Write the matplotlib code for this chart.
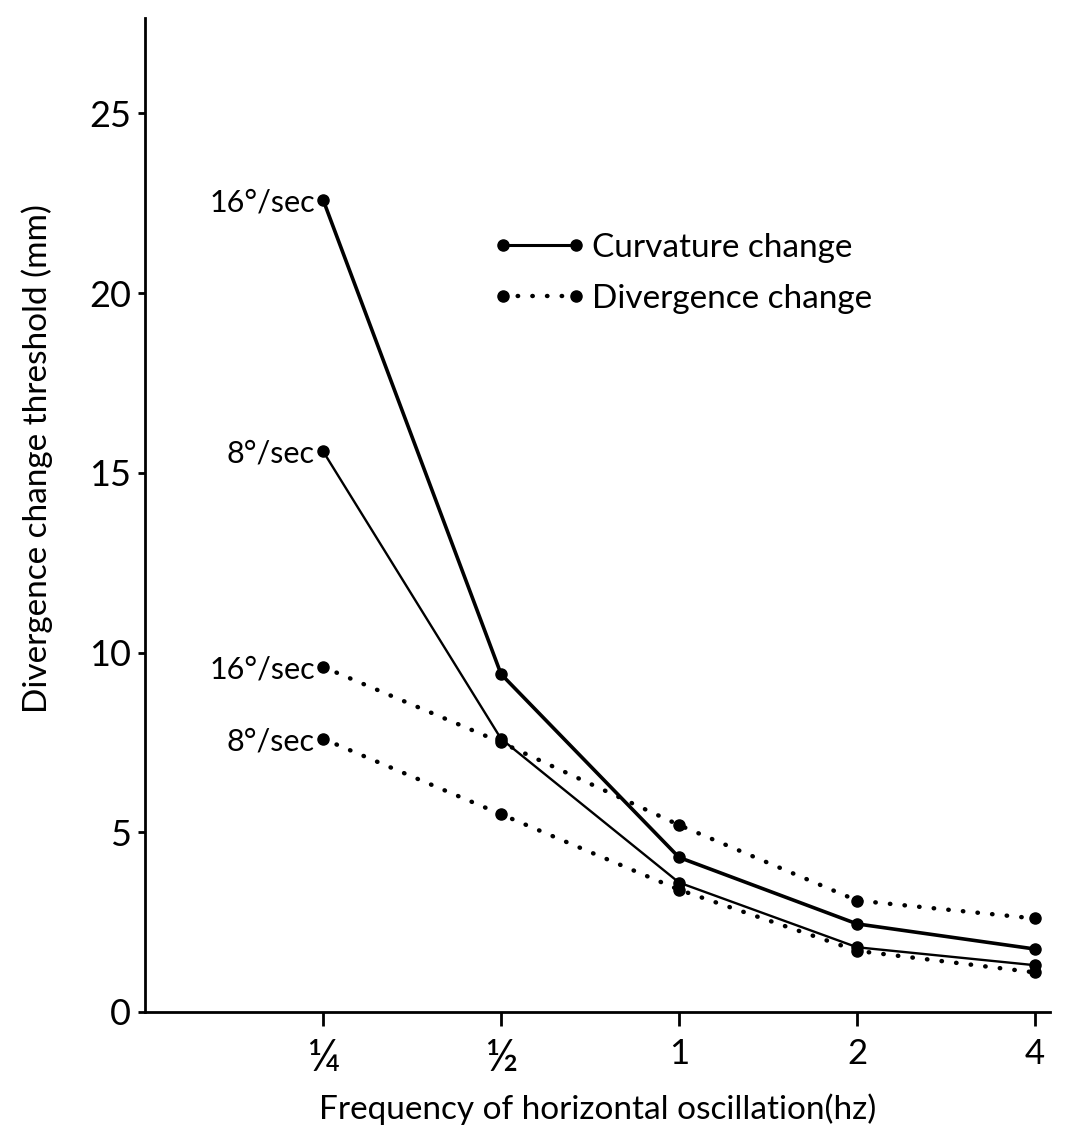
import matplotlib
matplotlib.use("Agg")
import matplotlib.pyplot as plt
from matplotlib.lines import Line2D

plt.rcParams['font.family'] = ['Lato', 'DejaVu Sans']

freq_labels = ["¼", "½", "1", "2", "4"]
curv_16 = [22.6, 9.4, 4.3, 2.45, 1.75]
curv_8 = [15.6, 7.6, 3.6, 1.8, 1.3]
div_16 = [9.6, 7.5, 5.2, 3.1, 2.6]
div_8 = [7.6, 5.5, 3.4, 1.7, 1.1]
series_labels = ["16°/sec", "8°/sec", "16°/sec", "8°/sec"]
y_ticks = [0, 5, 10, 15, 20, 25]

fig = plt.figure(figsize=(10.75, 11.45), dpi=100)
ax = fig.add_axes([0.1349, 0.1162, 0.842, 0.868])

x = list(range(len(freq_labels)))
dot_style = dict(linestyle=(0, (0.1, 3.2)), dash_capstyle='round')

ax.plot(x, curv_16, color='black', lw=2.6, marker='o', ms=8)
ax.plot(x, curv_8, color='black', lw=1.7, marker='o', ms=8)
ax.plot(x, div_16, color='black', lw=3.2, marker='o', ms=8, **dot_style)
ax.plot(x, div_8, color='black', lw=3.2, marker='o', ms=8, **dot_style)

for vals, lab in zip([curv_16, curv_8, div_16, div_8], series_labels):
    ax.annotate(lab, (x[0], vals[0]), xytext=(-6, -2), textcoords='offset points',
                ha='right', va='center', fontsize=22)

ax.set_xlim(-1.0, 4.085)
ax.set_ylim(0, 27.65)
ax.set_xticks(x)
ax.set_xticklabels(freq_labels, fontsize=25)
for t in ax.get_xticklabels():
    if t.get_text() in ("¼", "½"):
        t.set_fontsize(32)
ax.set_yticks(y_ticks)
ax.set_yticklabels([str(v) for v in y_ticks], fontsize=26)
ax.tick_params(axis='y', direction='out', length=5, width=2, pad=5)
ax.tick_params(axis='x', direction='out', length=10, width=2, pad=9)

for s in ['top', 'right']:
    ax.spines[s].set_visible(False)
for s in ['left', 'bottom']:
    ax.spines[s].set_linewidth(2)

ax.set_xlabel("Frequency of horizontal oscillation(hz)", fontsize=24, labelpad=10)
ax.set_ylabel("Divergence change threshold (mm)", fontsize=24)
ax.yaxis.set_label_coords(-0.1015, 0.557)

handles = [
    Line2D([], [], color='black', lw=2.2, marker='o', ms=8),
    Line2D([], [], color='black', lw=3.2, marker='o', ms=8, **dot_style),
]
ax.legend(handles, ["Curvature change", "Divergence change"], loc='upper left',
          bbox_to_anchor=(0.3843, 0.784), frameon=False, fontsize=24, numpoints=2,
          borderpad=0, borderaxespad=0,
          handlelength=2.8, handletextpad=0.16, labelspacing=0.64)

fig.savefig("out.png", dpi=100, facecolor='white')
